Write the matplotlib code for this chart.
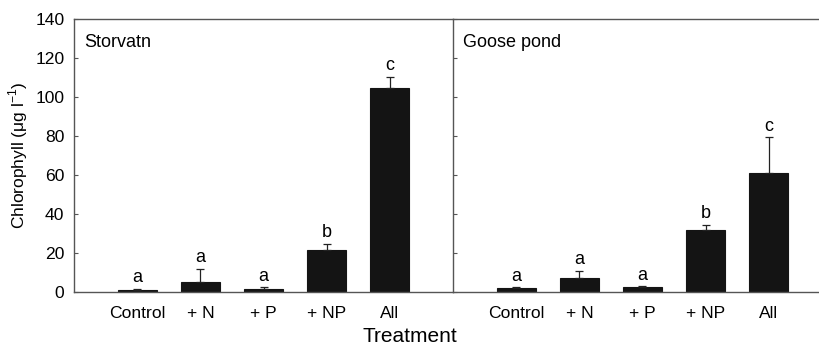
import matplotlib.pyplot as plt
import numpy as np

plt.rcParams['font.family'] = ['Liberation Sans', 'DejaVu Sans']
plt.rcParams['mathtext.fontset'] = 'custom'
plt.rcParams['mathtext.rm'] = 'Liberation Sans'
plt.rcParams['axes.unicode_minus'] = False

treatments = ['Control', '+ N', '+ P', '+ NP', 'All']
storvatn_mean = [1.2, 5.0, 1.7, 21.4, 104.8]
storvatn_err = [0.4, 7.0, 0.8, 3.3, 5.6]
goose_mean = [2.2, 7.4, 2.6, 31.7, 61.0]
goose_err = [0.3, 3.6, 0.3, 2.9, 18.4]
letters = ['a', 'a', 'a', 'b', 'c']
panels = [('Storvatn', storvatn_mean, storvatn_err),
          ('Goose pond', goose_mean, goose_err)]

W, H = 820, 351
fig = plt.figure(figsize=(W / 100, H / 100), dpi=100)
bottom = (H - 292) / H
height = (292 - 19) / H
axes = [fig.add_axes([74 / W, bottom, 379 / W, height]),
        fig.add_axes([453 / W, bottom, 379 / W, height])]

x = np.arange(len(treatments))
for ax, (name, mean, err) in zip(axes, panels):
    ax.bar(x, mean, width=0.62, color='#141414', edgecolor='#141414', linewidth=0.8)
    ax.errorbar(x, mean, yerr=[np.zeros(len(err)), err], fmt='none',
                ecolor='#222222', elinewidth=0.9, capsize=3.2, capthick=0.9)
    for xi, m, e, l in zip(x, mean, err, letters):
        ax.text(xi, m + e + 1.3, l, ha='center', va='bottom', fontsize=13)
    ax.text(0.026, 0.915, name, transform=ax.transAxes, ha='left', va='center', fontsize=13)
    ax.set_xlim(-1, 5)
    ax.set_ylim(0, 140)
    ax.set_yticks(np.arange(0, 141, 20))
    ax.set_xticks(x)
    ax.set_xticklabels(treatments, fontsize=12.6)
    ax.tick_params(axis='x', length=0, pad=10)
    ax.tick_params(axis='y', direction='in', length=3, width=0.8, color='#555555',
                   labelsize=12.6, pad=7)
    for s in ax.spines.values():
        s.set_color('#555555')
        s.set_linewidth(1.0)

axes[0].spines['right'].set_visible(False)
axes[1].spines['right'].set_visible(False)
axes[1].tick_params(axis='y', labelleft=False)
axes[0].set_ylabel('Chlorophyll (\u03bcg l$^{-1}$)', fontsize=12.5, labelpad=4)
fig.text(0.5, (H - 336) / H, 'Treatment', ha='center', va='center', fontsize=15)

fig.savefig('out.png', dpi=100)
